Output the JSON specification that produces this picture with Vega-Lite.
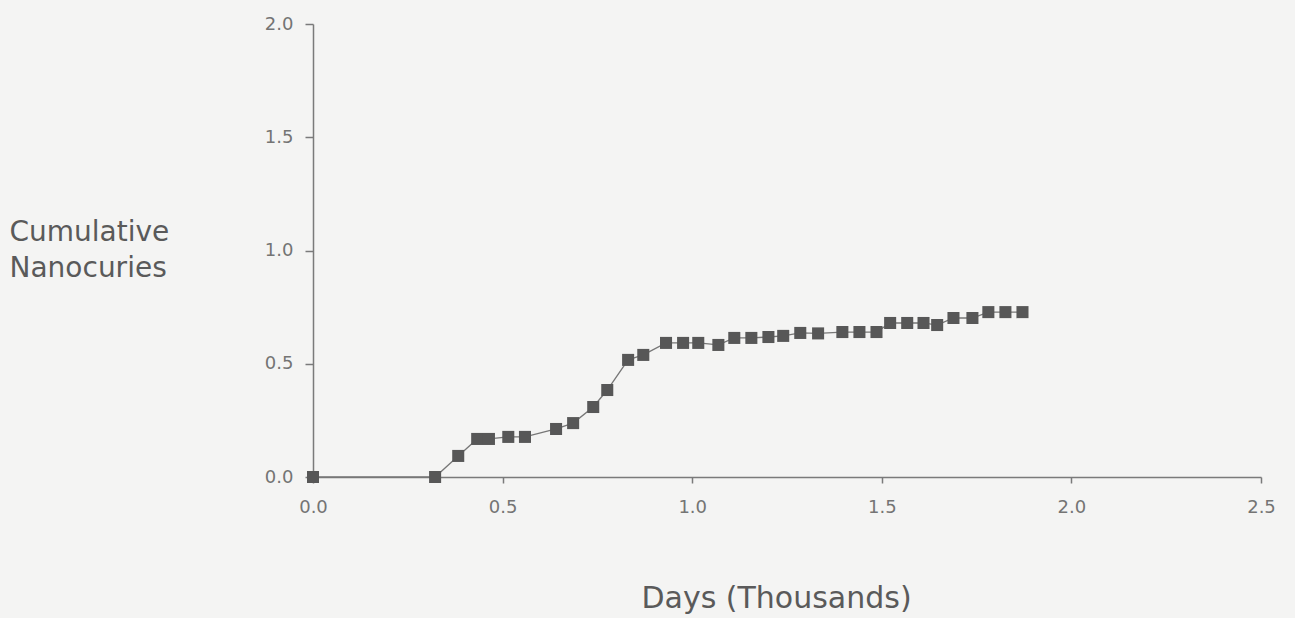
{
  "$schema": "https://vega.github.io/schema/vega-lite/v6.json",
  "width": 948,
  "height": 453,
  "autosize": {"type": "none"},
  "padding": {"left": 313, "top": 24, "right": 34, "bottom": 141},
  "background": "#f4f4f3",
  "config": {"view": {"stroke": null}, "font": "DejaVu Sans"},
  "data": {
    "values": [
      {"days": 0.000, "nci": 0.000},
      {"days": 0.322, "nci": 0.000},
      {"days": 0.383, "nci": 0.093},
      {"days": 0.433, "nci": 0.168},
      {"days": 0.464, "nci": 0.168},
      {"days": 0.515, "nci": 0.177},
      {"days": 0.559, "nci": 0.177},
      {"days": 0.641, "nci": 0.212},
      {"days": 0.686, "nci": 0.238},
      {"days": 0.739, "nci": 0.309},
      {"days": 0.776, "nci": 0.384},
      {"days": 0.831, "nci": 0.517},
      {"days": 0.871, "nci": 0.539},
      {"days": 0.931, "nci": 0.592},
      {"days": 0.976, "nci": 0.592},
      {"days": 1.016, "nci": 0.592},
      {"days": 1.069, "nci": 0.583},
      {"days": 1.111, "nci": 0.614},
      {"days": 1.156, "nci": 0.614},
      {"days": 1.201, "nci": 0.618},
      {"days": 1.240, "nci": 0.623},
      {"days": 1.285, "nci": 0.636},
      {"days": 1.332, "nci": 0.634},
      {"days": 1.396, "nci": 0.640},
      {"days": 1.441, "nci": 0.640},
      {"days": 1.486, "nci": 0.640},
      {"days": 1.522, "nci": 0.680},
      {"days": 1.567, "nci": 0.680},
      {"days": 1.610, "nci": 0.680},
      {"days": 1.646, "nci": 0.671},
      {"days": 1.689, "nci": 0.702},
      {"days": 1.739, "nci": 0.702},
      {"days": 1.781, "nci": 0.728},
      {"days": 1.826, "nci": 0.728},
      {"days": 1.871, "nci": 0.728}
    ]
  },
  "encoding": {
    "x": {
      "field": "days",
      "type": "quantitative",
      "scale": {"domain": [0, 2.5], "nice": false},
      "axis": {
        "values": [0, 0.5, 1, 1.5, 2, 2.5],
        "format": ".1f",
        "grid": false,
        "domainColor": "#7a7a7a",
        "domainWidth": 1.5,
        "tickColor": "#7a7a7a",
        "tickWidth": 1.5,
        "tickSize": 6,
        "labelFontSize": 18,
        "labelColor": "#747474",
        "labelPadding": 15,
        "labelFlush": false,
        "title": "Days  (Thousands)",
        "titleFontSize": 30,
        "titleFontWeight": "normal",
        "titleColor": "#5a5a5a",
        "titleX": 463,
        "titleY": 130,
        "titleBaseline": "alphabetic"
      }
    },
    "y": {
      "field": "nci",
      "type": "quantitative",
      "scale": {"domain": [0, 2], "nice": false},
      "axis": {
        "values": [0, 0.5, 1, 1.5, 2],
        "format": ".1f",
        "grid": false,
        "domainColor": "#7a7a7a",
        "domainWidth": 1.5,
        "tickColor": "#7a7a7a",
        "tickWidth": 1.5,
        "tickSize": 8,
        "labelFontSize": 18,
        "labelColor": "#747474",
        "labelPadding": 12,
        "labelFlush": false,
        "title": ["Cumulative", "Nanocuries"],
        "titleFontSize": 28,
        "titleFontWeight": "normal",
        "titleColor": "#5a5a5a",
        "titleAngle": 0,
        "titleAlign": "left",
        "titleBaseline": "top",
        "titleLineHeight": 36,
        "titleX": -304,
        "titleY": 194
      }
    }
  },
  "layer": [
    {"mark": {"type": "line", "color": "#777777", "strokeWidth": 1.3}},
    {"mark": {"type": "point", "shape": "square", "filled": true, "size": 145, "color": "#575757", "opacity": 1}}
  ]
}
